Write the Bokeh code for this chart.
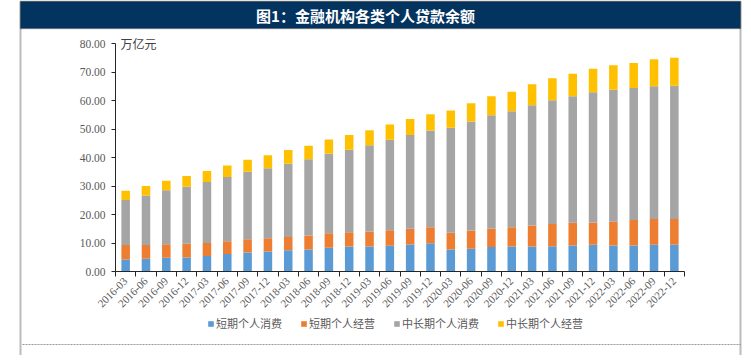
import numpy as np
from math import pi
from bokeh.plotting import figure
from bokeh.models import (ColumnDataSource, FixedTicker, PrintfTickFormatter, Range1d,
                          Legend, LegendItem, Label, BoxAnnotation, LinearAxis)
from bokeh.embed import file_html
from bokeh.resources import INLINE

# ---------------- data (万亿元) ----------------
quarters = ["2016-03", "2016-06", "2016-09", "2016-12",
            "2017-03", "2017-06", "2017-09", "2017-12",
            "2018-03", "2018-06", "2018-09", "2018-12",
            "2019-03", "2019-06", "2019-09", "2019-12",
            "2020-03", "2020-06", "2020-09", "2020-12",
            "2021-03", "2021-06", "2021-09", "2021-12",
            "2022-03", "2022-06", "2022-09", "2022-12"]
short_consume = [4.2, 4.5, 4.8, 4.9, 5.4, 6.1, 6.7, 7.0, 7.5, 7.7, 8.3, 8.8,
                 8.8, 9.0, 9.5, 9.9, 7.7, 8.0, 8.6, 8.8, 8.8, 8.9, 9.1, 9.4,
                 9.1, 9.1, 9.4, 9.4]
short_business = [5.1, 4.8, 4.8, 4.8, 4.6, 4.5, 4.6, 4.7, 4.6, 4.9, 5.1, 5.0,
                  5.2, 5.5, 5.5, 5.6, 5.9, 6.4, 6.5, 6.7, 7.3, 7.8, 8.0, 7.8,
                  8.4, 9.0, 9.0, 9.0]
long_consume = [15.8, 17.4, 18.9, 20.0, 21.4, 22.6, 23.7, 24.5, 25.7, 26.8, 27.9, 28.9,
                30.3, 31.7, 32.9, 34.0, 36.8, 38.2, 39.7, 40.7, 42.2, 43.4, 44.4, 45.7,
                46.3, 46.3, 46.6, 46.8]
long_business = [3.2, 3.3, 3.3, 3.8, 3.9, 4.0, 4.2, 4.6, 4.8, 4.7, 5.0, 5.2,
                 5.3, 5.4, 5.6, 5.7, 6.1, 6.4, 6.7, 6.9, 7.4, 7.7, 7.9, 8.2,
                 8.6, 8.8, 9.5, 9.8]
series_names = ["短期个人消费", "短期个人经营", "中长期个人消费", "中长期个人经营"]
series_keys = ["s_c", "s_b", "l_c", "l_b"]
colors = ["#5B9BD5", "#ED7D31", "#A5A5A5", "#FFC000"]
y_ticks = [0, 10, 20, 30, 40, 50, 60, 70, 80]
y_min, y_max = 0, 80
title_text = "图1：金融机构各类个人贷款余额"
unit_text = "万亿元"
source_text = "数据来源：中国人民银行，Wind，华西证券研究所"

n = len(quarters)
idx = list(range(n))
src = ColumnDataSource(dict(x=idx, s_c=short_consume, s_b=short_business,
                            l_c=long_consume, l_b=long_business))

# ---------------- layout (canvas pixels) ----------------
W, H = 743, 355
plot_l, plot_r, plot_t, plot_b = 115, 684, 43, 271      # chart area inside canvas
xs = (plot_r - plot_l) / n                              # px per category
ys = (plot_b - plot_t) / (y_max - y_min)                # px per unit
x0 = -0.5 - plot_l / xs
x1 = n - 0.5 + (W - plot_r) / xs
y0 = y_min - (H - plot_b) / ys
y1 = y_max + plot_t / ys

p = figure(width=W, height=H, output_backend="svg", toolbar_location=None,
           x_range=Range1d(x0, x1), y_range=Range1d(y0, y1),
           x_axis_location=None, y_axis_location=None, min_border=0)
p.outline_line_color = None
p.background_fill_color = "white"
p.border_fill_color = "white"
for g in p.grid:
    g.visible = False

rs = p.vbar_stack(series_keys, x="x", width=0.42, color=colors, line_color=None, source=src)

tick_font = "Liberation Serif"
xa = LinearAxis(fixed_location=y_min, bounds=(-0.5, n - 0.5))
xa.ticker = FixedTicker(ticks=idx, minor_ticks=[i - 0.5 for i in range(n + 1)])
xa.major_label_overrides = {i: q for i, q in zip(idx, quarters)}
xa.major_label_orientation = pi / 4
xa.major_tick_out = 0
xa.major_tick_in = 0
xa.minor_tick_out = 5
xa.minor_tick_in = 0
xa.minor_tick_line_color = "#262626"
xa.axis_line_color = "#262626"
xa.major_label_text_font = tick_font
xa.major_label_text_font_size = "11px"
xa.major_label_text_color = "#595959"
xa.major_label_standoff = 3
p.add_layout(xa, "below")

ya = LinearAxis(fixed_location=-0.5, bounds=(y_min, y_max))
ya.ticker = FixedTicker(ticks=y_ticks)
ya.formatter = PrintfTickFormatter(format="%.2f")
ya.major_tick_out = 4
ya.major_tick_in = 0
ya.minor_tick_line_color = None
ya.major_tick_line_color = "#262626"
ya.axis_line_color = "#262626"
ya.major_label_text_font = tick_font
ya.major_label_text_font_size = "11.5px"
ya.major_label_text_color = "#595959"
ya.major_label_standoff = 6
p.add_layout(ya, "left")

# frame and title bar (screen units: x from left, y from bottom)
FL, FR, FT = 20, 740, H - 1
scr = dict(left_units="screen", right_units="screen", top_units="screen", bottom_units="screen")
p.add_layout(BoxAnnotation(left=FL, right=FR, top=FT, bottom=-20, fill_alpha=0,
                           line_color="#1a1a1a", line_width=2, **scr))
p.add_layout(BoxAnnotation(left=FL, right=FR, top=FT, bottom=H - 28,
                           fill_color="#03335f", fill_alpha=1, line_color="#1a1a1a",
                           line_width=1.5, **scr))
p.add_layout(Label(x=365, y=H - 15, x_units="screen", y_units="screen", text=title_text,
                   text_align="center", text_baseline="middle", text_color="white",
                   text_font="Noto Sans CJK SC", text_font_size="15px",
                   text_font_style="bold"))
p.add_layout(Label(x=plot_l + 5, y=H - plot_t, x_units="screen", y_units="screen",
                   text=unit_text, text_align="left", text_baseline="middle",
                   text_color="#404040", text_font="Noto Sans CJK SC", text_font_size="12px"))
p.add_layout(BoxAnnotation(left=FL + 2, right=FR, top=H - 344, bottom=H - 344, fill_alpha=0,
                           line_color="#404040", line_width=1, line_dash="2 1", **scr))
p.add_layout(Label(x=27, y=H - 351, x_units="screen", y_units="screen", text=source_text,
                   text_align="left", text_baseline="top", text_color="#404040",
                   text_font="Noto Sans CJK SC", text_font_size="12px"))

legend = Legend(items=[LegendItem(label=nm, renderers=[r]) for nm, r in zip(series_names, rs)],
                orientation="horizontal", location=(207, H - 331))
legend.glyph_width = 7
legend.glyph_height = 7
legend.label_height = 14
legend.label_standoff = 2
legend.spacing = 18
legend.padding = 0
legend.margin = 0
legend.border_line_color = None
legend.background_fill_alpha = 0
legend.label_text_font = "Noto Sans CJK SC"
legend.label_text_font_size = "11px"
legend.label_text_color = "#595959"
p.add_layout(legend, "center")

open("out.html", "w").write(file_html(p, INLINE))
